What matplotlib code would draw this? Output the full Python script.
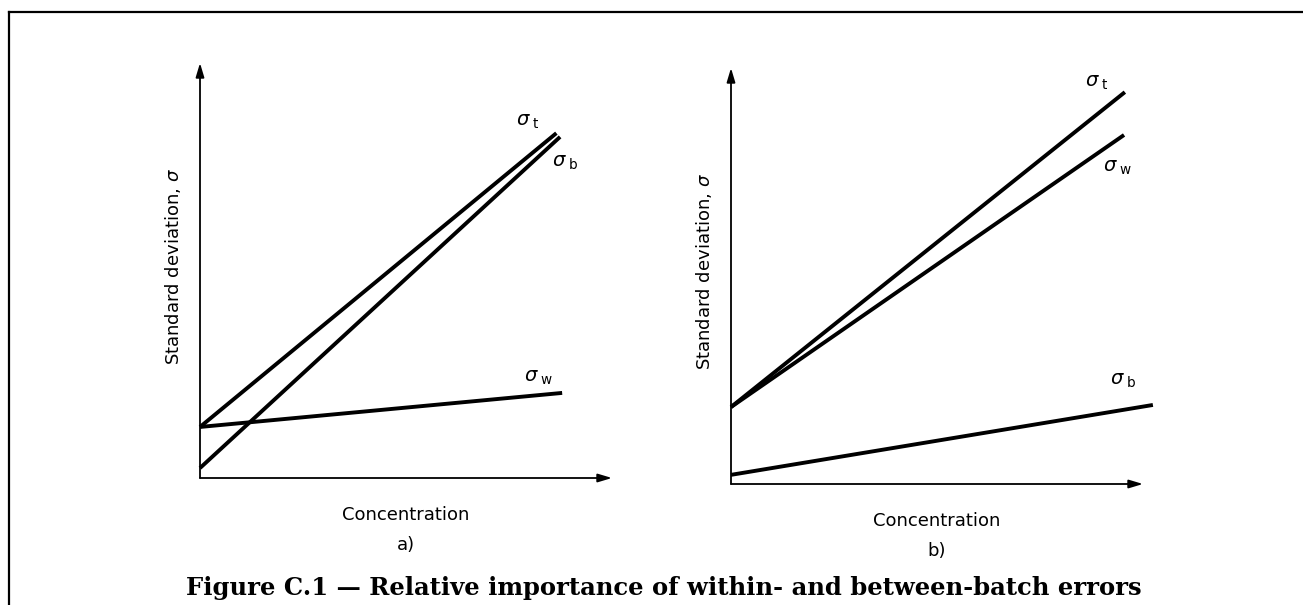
import matplotlib
matplotlib.use("Agg")
import matplotlib.pyplot as plt
from matplotlib.lines import Line2D

# concentration / standard deviation, arbitrary units (0..10 on both axes)
# panel a): between-batch error dominates
a_x = [0.0, 8.65]
a_sigma_t = [1.23, 8.31]
a_x_b = [0.0, 8.74]
a_sigma_b = [0.24, 8.22]
a_x_w = [0.0, 8.79]
a_sigma_w = [1.23, 2.05]

# panel b): within-batch error dominates
b_x_t = [0.0, 9.56]
b_sigma_t = [1.85, 9.42]
b_x_w = [0.0, 9.54]
b_sigma_w = [1.85, 8.39]
b_x_b = [0.0, 10.24]
b_sigma_b = [0.22, 1.90]

W, H = 1303, 605
fig = plt.figure(figsize=(W / 100, H / 100), dpi=100)
fig.patch.set_facecolor("white")

sans = "DejaVu Sans"


def px_axes(x0, y0, w, h):
    # axes placed in pixel coordinates (origin top-left like the page)
    return fig.add_axes([x0 / W, (H - y0) / H, w / W, h / H])


def draw_panel(ax, series, labels, sub):
    ax.set_xlim(0, 10)
    ax.set_ylim(0, 10)
    ax.axis("off")
    # axes drawn as arrows
    for tip in [(10, 0), (0, 10)]:
        ax.annotate("", xy=tip, xytext=(0, 0), xycoords="data",
                    arrowprops=dict(arrowstyle="-|>,head_length=0.6,head_width=0.18",
                                    lw=1.3, color="black",
                                    mutation_scale=14, shrinkA=0, shrinkB=0),
                    annotation_clip=False)
    for xs, ys in series:
        ax.plot(xs, ys, color="black", lw=2.8, solid_capstyle="butt",
                clip_on=False)
    for (lx, ly), name in labels:
        ax.text(lx, ly, r"$\sigma_{\;\mathrm{%s}}$" % name, fontsize=14,
                ha="center", va="center")
    ax.text(-0.65, 5.1, "Standard deviation, $\\sigma$", rotation=90,
            fontsize=13, family=sans, ha="center", va="center")
    ax.text(5.0, -0.9, "Concentration", fontsize=13, family=sans,
            ha="center", va="center")
    ax.text(5.0, -1.62, sub, fontsize=13, family=sans,
            ha="center", va="center")


ax_a = px_axes(200, 478, 412, 415)
draw_panel(ax_a,
           [(a_x, a_sigma_t), (a_x_b, a_sigma_b), (a_x_w, a_sigma_w)],
           [((7.96, 8.58), "t"), ((8.86, 7.61), "b"), ((8.2, 2.41), "w")],
           "a)")

ax_b = px_axes(731, 484, 412, 416)
draw_panel(ax_b,
           [(b_x_t, b_sigma_t), (b_x_w, b_sigma_w), (b_x_b, b_sigma_b)],
           [((8.88, 9.66), "t"), ((9.37, 7.6), "w"), ((9.51, 2.5), "b")],
           "b)")

# page frame (top and left rule)
fig.add_artist(Line2D([9 / W, 9 / W], [0, 1 - 12 / H], color="black", lw=1.6,
                      transform=fig.transFigure))
fig.add_artist(Line2D([9 / W, 1], [1 - 12 / H, 1 - 12 / H], color="black",
                      lw=1.6, transform=fig.transFigure))

fig.text(664 / W, 1 - 588 / H,
         "Figure C.1 \u2014 Relative importance of within- and between-batch errors",
         fontsize=17.5, fontweight="bold", family="DejaVu Serif",
         ha="center", va="center")

fig.savefig("out.png", dpi=100)
